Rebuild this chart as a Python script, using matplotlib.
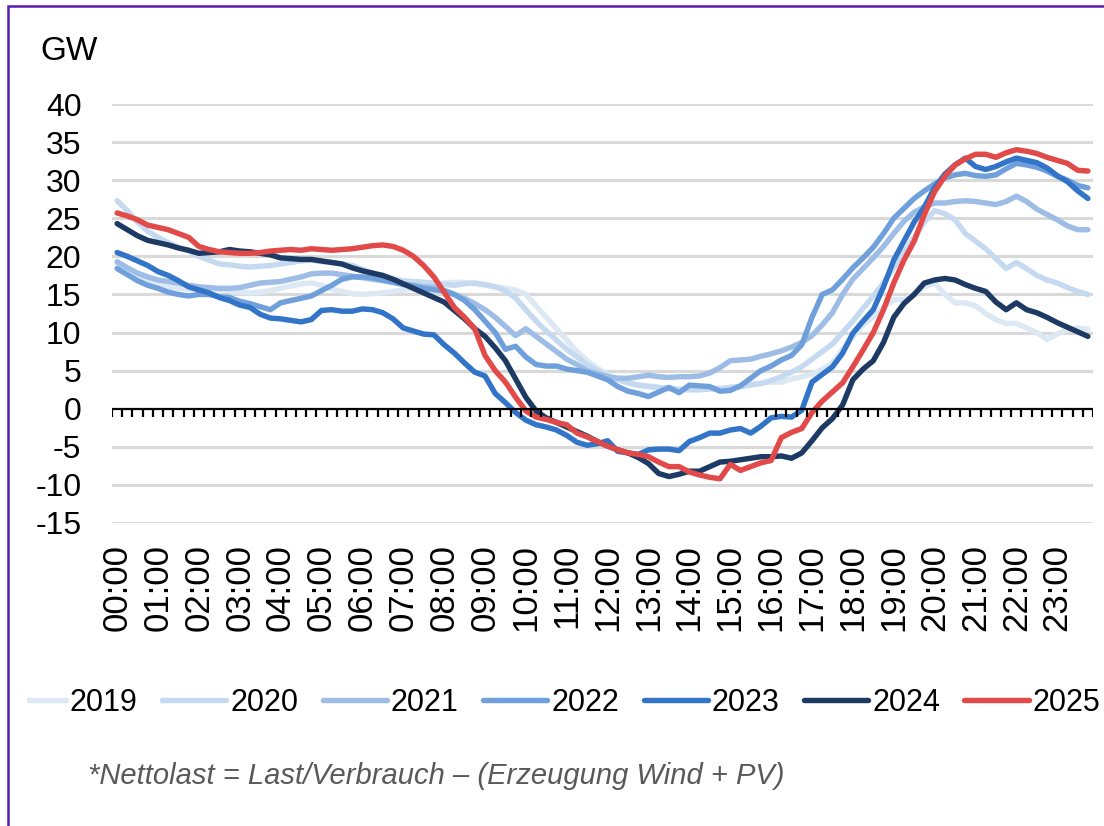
import matplotlib
matplotlib.use("Agg")
import matplotlib.pyplot as plt
from matplotlib.patches import Rectangle
from matplotlib.transforms import Bbox, TransformedBbox

plt.rcParams['font.family'] = ['Liberation Sans', 'DejaVu Sans']

# 15-minute slots 00:00 .. 23:45
times = ["%02d:%02d" % (h, m) for h in range(24) for m in (0, 15, 30, 45)]
hour_labels = ["%02d:00" % h for h in range(24)]

years = ["2019", "2020", "2021", "2022", "2023", "2024", "2025"]
colors = ["#dde8f5", "#c5d9f0", "#9dbde6", "#6fa0dc", "#3274c8", "#1c3a63", "#e24a4a"]

y2019 = [19.0, 18.2, 17.3, 16.7, 16.3, 16.0, 15.8, 15.7, 15.6, 15.5, 15.6, 15.5,
         15.3, 15.2, 15.3, 15.5, 15.8, 16.1, 16.4, 16.5, 16.2, 15.7, 15.4, 15.1,
         15.0, 15.1, 15.2, 15.4, 15.6, 15.8, 16.0, 16.3, 16.5, 16.6, 16.6, 16.4,
         16.2, 16.0, 15.8, 15.6, 15.0, 13.5, 12.0, 10.5, 9.0, 7.5, 6.3, 5.3,
         4.5, 3.9, 3.4, 3.1, 3.0, 2.8, 2.7, 2.6, 2.5, 2.5, 2.6, 2.7,
         2.8, 3.0, 3.2, 3.4, 3.5, 3.5, 3.9, 4.2, 4.5, 5.2, 6.0, 7.8,
         9.5, 11.0, 12.1, 13.3, 14.3, 14.3, 15.0, 16.0, 16.5, 15.0, 13.9, 13.9,
         13.5, 12.5, 11.7, 11.2, 11.2, 10.6, 10.0, 9.1, 9.8, 10.4, 10.6, 10.4]

y2020 = [27.3, 26.0, 24.5, 23.3, 22.5, 21.8, 21.2, 20.7, 20.0, 19.5, 19.0, 18.9,
         18.7, 18.6, 18.7, 18.8, 19.0, 19.2, 19.4, 19.5, 19.3, 19.2, 19.0, 18.8,
         18.3, 17.8, 17.3, 17.0, 16.8, 16.7, 16.6, 16.5, 16.3, 16.2, 16.4, 16.5,
         16.3, 16.0, 15.5, 14.5, 13.0, 11.5, 10.2, 9.0, 7.8, 6.8, 5.8, 5.0,
         4.3, 3.8, 3.4, 3.1, 2.9, 2.8, 2.6, 2.5, 2.5, 2.5, 2.6, 2.6,
         2.8, 2.9, 3.1, 3.3, 3.7, 4.2, 4.8, 5.5, 6.5, 7.5, 8.5, 10.0,
         11.5, 13.2, 14.8, 16.5, 18.5, 20.5, 22.5, 24.5, 26.0, 25.6, 24.8, 23.0,
         22.0, 21.0, 19.7, 18.4, 19.2, 18.4, 17.5, 16.9, 16.5, 15.9, 15.4, 15.0]

y2021 = [19.3, 18.5, 17.8, 17.3, 16.9, 16.7, 16.5, 16.2, 16.0, 15.9, 15.8, 15.8,
         15.9, 16.2, 16.5, 16.6, 16.7, 17.0, 17.3, 17.7, 17.8, 17.8, 17.6, 17.4,
         17.2, 17.0, 16.8, 16.6, 16.4, 16.2, 16.0, 15.9, 15.5, 15.0, 14.5, 13.8,
         13.0, 12.0, 10.8, 9.6, 10.5, 9.5, 8.5, 7.5, 6.5, 5.8, 5.0, 4.6,
         4.2, 4.0, 4.0, 4.2, 4.4, 4.2, 4.1, 4.2, 4.2, 4.3, 4.7, 5.4,
         6.3, 6.4, 6.5, 6.9, 7.2, 7.6, 8.1, 8.7, 9.6, 11.0, 12.6, 15.0,
         17.0, 18.4, 19.8, 21.3, 23.0, 24.6, 25.8, 26.5, 27.0, 27.0, 27.2, 27.3,
         27.2, 27.0, 26.8, 27.2, 27.9, 27.2, 26.2, 25.5, 24.8, 24.0, 23.5, 23.5]

y2022 = [18.4, 17.6, 16.8, 16.2, 15.8, 15.3, 15.0, 14.8, 15.0, 15.0, 14.7, 14.6,
         14.1, 13.8, 13.4, 13.0, 13.9, 14.2, 14.5, 14.8, 15.5, 16.2, 17.0, 17.3,
         17.3, 17.2, 16.9, 16.6, 16.3, 16.1, 15.8, 15.6, 15.5, 15.0, 14.2, 13.0,
         11.5, 10.0, 7.8, 8.2, 6.8, 5.8, 5.6, 5.6, 5.2, 5.0, 4.8, 4.3,
         3.8, 2.9, 2.3, 2.0, 1.6, 2.2, 2.8, 2.1, 3.1, 3.0, 2.9, 2.3,
         2.4, 3.0, 4.0, 5.0, 5.6, 6.4, 7.0, 8.4, 12.0, 15.0, 15.6, 17.0,
         18.5, 19.8, 21.2, 23.0, 25.0, 26.3, 27.6, 28.6, 29.5, 30.3, 30.7, 30.9,
         30.6, 30.5, 30.7, 31.5, 32.2, 32.0, 31.7, 31.2, 30.5, 30.0, 29.3, 29.0]

y2023 = [20.5, 20.0, 19.4, 18.8, 18.0, 17.5, 16.8, 16.0, 15.6, 15.2, 14.6, 14.2,
         13.6, 13.3, 12.4, 11.9, 11.8, 11.6, 11.4, 11.7, 12.9, 13.0, 12.8, 12.8,
         13.1, 13.0, 12.6, 11.8, 10.6, 10.2, 9.8, 9.7, 8.4, 7.3, 6.0, 4.8,
         4.3, 2.0, 0.8, -0.5, -1.5, -2.1, -2.4, -2.8, -3.5, -4.4, -4.8, -4.6,
         -4.2, -5.6, -5.8, -6.0, -5.4, -5.3, -5.3, -5.5, -4.3, -3.8, -3.2, -3.2,
         -2.8, -2.6, -3.2, -2.3, -1.2, -1.0, -1.1, -0.2, 3.5, 4.5, 5.5, 7.3,
         9.9, 11.5, 13.0, 16.0, 19.5, 22.0, 24.5, 26.5, 29.0, 30.8, 32.0, 32.9,
         31.8, 31.4, 31.8, 32.4, 32.9, 32.6, 32.3, 31.6, 30.6, 29.8, 28.6, 27.6]

y2024 = [24.3, 23.5, 22.7, 22.1, 21.8, 21.5, 21.1, 20.8, 20.4, 20.5, 20.6, 20.9,
         20.7, 20.6, 20.4, 20.2, 19.8, 19.7, 19.6, 19.6, 19.4, 19.2, 19.0, 18.5,
         18.1, 17.8, 17.5, 17.0, 16.4, 15.8, 15.2, 14.6, 14.0, 12.9, 11.8, 10.5,
         9.5, 8.0, 6.3, 3.9, 1.5, -0.3, -1.2, -1.8, -2.4, -3.0, -3.6, -4.3,
         -4.9, -5.4, -5.8, -6.4, -7.2, -8.5, -8.9, -8.6, -8.2, -8.2, -7.6, -7.0,
         -6.9, -6.7, -6.5, -6.3, -6.3, -6.2, -6.5, -5.8, -4.2, -2.5, -1.3, 0.5,
         3.8, 5.2, 6.3, 8.7, 12.0, 13.8, 15.0, 16.5, 16.9, 17.1, 16.9, 16.3,
         15.8, 15.4, 14.0, 13.0, 13.9, 13.0, 12.6, 12.0, 11.3, 10.7, 10.1, 9.5]

y2025 = [25.7, 25.3, 24.8, 24.1, 23.8, 23.5, 23.0, 22.5, 21.3, 20.9, 20.6, 20.5,
         20.4, 20.4, 20.5, 20.7, 20.8, 20.9, 20.8, 21.0, 20.9, 20.8, 20.9, 21.0,
         21.2, 21.4, 21.5, 21.3, 20.8, 20.0, 18.8, 17.3, 15.3, 13.3, 12.0, 10.5,
         7.0, 5.0, 3.5, 1.5, -0.3, -1.1, -1.4, -1.8, -2.1, -3.2, -3.7, -4.3,
         -4.9, -5.4, -5.8, -6.0, -6.3, -7.0, -7.6, -7.6, -8.3, -8.7, -9.0, -9.2,
         -7.3, -8.1, -7.6, -7.1, -6.8, -3.8, -3.1, -2.6, -0.5, 1.0, 2.2, 3.4,
         5.5, 7.7, 10.0, 13.0, 16.5, 19.5, 22.0, 25.5, 28.5, 30.5, 32.0, 32.8,
         33.4, 33.4, 33.0, 33.6, 34.0, 33.8, 33.5, 33.0, 32.6, 32.2, 31.3, 31.2]

series = [y2019, y2020, y2021, y2022, y2023, y2024, y2025]

W, H = 1104, 826
fig = plt.figure(figsize=(W / 100, H / 100), dpi=100)
ax = fig.add_axes([112 / W, 1 - 523 / H, (1093 - 112) / W, (523 - 104) / H])

xs = list(range(len(times)))
yticks = list(range(-15, 41, 5))

# grid
for yv in yticks:
    if yv != 0:
        ax.axhline(yv, color="#d9d9d9", lw=2.2, zorder=0)

for vals, col, yr in zip(series, colors, years):
    ax.plot(xs, vals, color=col, lw=3.9, label=yr, solid_joinstyle="round",
            solid_capstyle="round", zorder=2)

# zero line with category tick marks
ax.axhline(0, color="black", lw=1.6, zorder=3)
ax.vlines([k - 0.5 for k in range(len(times) + 1)], -1.15, 0, color="black",
          lw=1.6, zorder=3)

ax.set_xlim(-0.5, len(times) - 0.5)
ax.set_ylim(-15, 40)
ax.set_yticks(yticks)
ax.set_yticklabels([str(v) for v in yticks], fontsize=23)
ax.set_xticks(xs[::4])
ax.set_xticklabels(hour_labels, rotation=90, fontsize=25)
ax.tick_params(axis="both", length=0)
ax.tick_params(axis="y", pad=22)
ax.tick_params(axis="x", pad=15)
for s in ax.spines.values():
    s.set_visible(False)

fig.text(40 / W, 1 - 52 / H, "GW", fontsize=24, va="center", ha="left")

handles, labels = ax.get_legend_handles_labels()
leg = fig.legend(handles, labels, loc="center", bbox_to_anchor=(551 / W, 1 - 703 / H),
                 ncol=7, frameon=False, fontsize=22, handlelength=2.1,
                 handletextpad=0.13, columnspacing=0.8)
# first legend line starts a bit later in the original
first = leg.legend_handles[0]
first.set_clip_box(TransformedBbox(Bbox([[27 / W, 0], [1, 1]]), fig.transFigure))
first.set_clip_on(True)

fig.text(88 / W, 1 - 776 / H, "*Nettolast = Last/Verbrauch \u2013 (Erzeugung Wind + PV)",
         fontsize=21, style="italic", color="#595959", va="center", ha="left")

# purple frame
fig.patches.append(Rectangle((8 / W, -0.05), 1.2, 1.05 - 6 / H, fill=False,
                             ec="#5a1cb4", lw=1.8, transform=fig.transFigure))

fig.savefig("out.png", dpi=100)
